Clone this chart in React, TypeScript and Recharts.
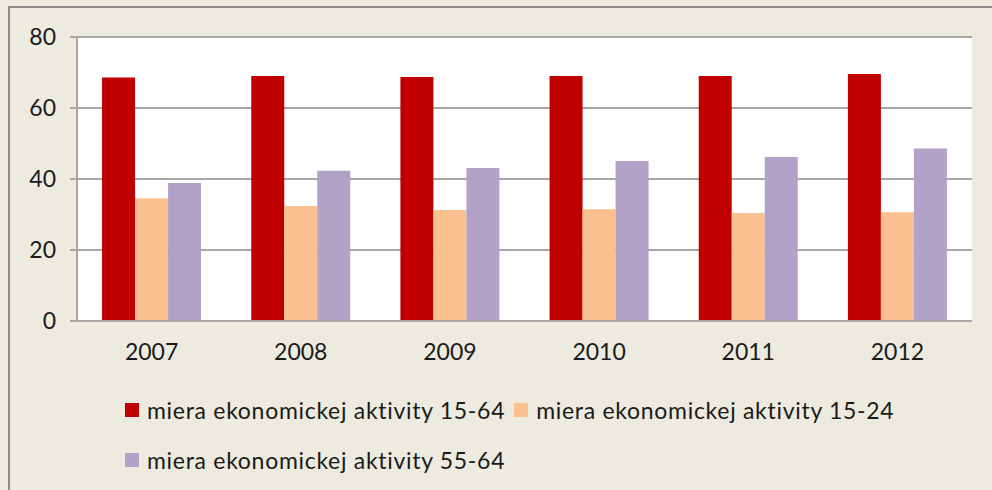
import { BarChart, Bar, XAxis, YAxis, CartesianGrid, Legend } from "recharts"

const years = ["2007", "2008", "2009", "2010", "2011", "2012"]
const activity1564 = [68.6, 69.0, 68.7, 69.0, 69.0, 69.6]
const activity1524 = [34.6, 32.4, 31.3, 31.5, 30.4, 30.6]
const activity5564 = [38.9, 42.3, 43.1, 45.1, 46.2, 48.6]
const yTicks = [0, 20, 40, 60, 80]

const series = [
  { key: "a1564", name: "miera ekonomickej aktivity 15-64", color: "#C00000" },
  { key: "a1524", name: "miera ekonomickej aktivity 15-24", color: "#FAC090" },
  { key: "a5564", name: "miera ekonomickej aktivity 55-64", color: "#B3A2C7" },
]

const data = years.map((year, i) => ({
  year,
  a1564: activity1564[i],
  a1524: activity1524[i],
  a5564: activity5564[i],
}))

const font = "Lato, 'Open Sans', sans-serif"

function LegendBox() {
  return (
    <div style={{ display: "flex", flexWrap: "wrap", width: 840, rowGap: 24, columnGap: 9, fontFamily: font }}>
      {series.map((s) => (
        <div key={s.key} style={{ display: "flex", alignItems: "center", height: 26 }}>
          <span style={{ width: 14, height: 14, background: s.color, marginRight: 8 }} />
          <span style={{ fontSize: 23, letterSpacing: 0.7, color: "#1A1A1A", whiteSpace: "nowrap" }}>{s.name}</span>
        </div>
      ))}
    </div>
  )
}

export default function App() {
  return (
    <div style={{ position: "absolute", left: 0, top: 0, width: 992, height: 490, background: "#EDEAE0", overflow: "hidden" }}>
      <div
        style={{
          position: "absolute",
          left: 8,
          top: 6,
          width: 1000,
          height: 500,
          borderTop: "2px solid #8C8C8C",
          borderLeft: "2px solid #8C8C8C",
        }}
      />
      <div style={{ position: "absolute", left: 0, top: 0 }}>
        <BarChart
          width={992}
          height={490}
          data={data}
          margin={{ top: 37, right: 20, left: 0, bottom: 139 }}
          barCategoryGap="16.8%"
          barGap={0}
        >
          <CartesianGrid vertical={false} stroke="#A6A6A6" strokeWidth={2} fill="#FFFFFF" />
          <XAxis
            dataKey="year"
            height={30}
            axisLine={{ stroke: "#A6A6A6", strokeWidth: 2 }}
            tickLine={false}
            tickSize={0}
            tickMargin={23}
            tick={{ fill: "#1A1A1A", fontSize: 23, fontFamily: font }}
          />
          <YAxis
            width={77}
            domain={[0, 80]}
            ticks={yTicks}
            axisLine={{ stroke: "#A6A6A6", strokeWidth: 2 }}
            tickLine={{ stroke: "#A6A6A6", strokeWidth: 2 }}
            tickSize={7}
            tickMargin={14}
            tick={{ fill: "#1A1A1A", fontSize: 23, fontFamily: font }}
          />
          <Legend
            verticalAlign="middle"
            layout="horizontal"
            content={<LegendBox />}
            wrapperStyle={{ top: 397, left: 125, width: 850, height: 80 }}
          />
          {series.map((s) => (
            <Bar key={s.key} dataKey={s.key} name={s.name} fill={s.color} isAnimationActive={false} />
          ))}
        </BarChart>
      </div>
    </div>
  )
}
